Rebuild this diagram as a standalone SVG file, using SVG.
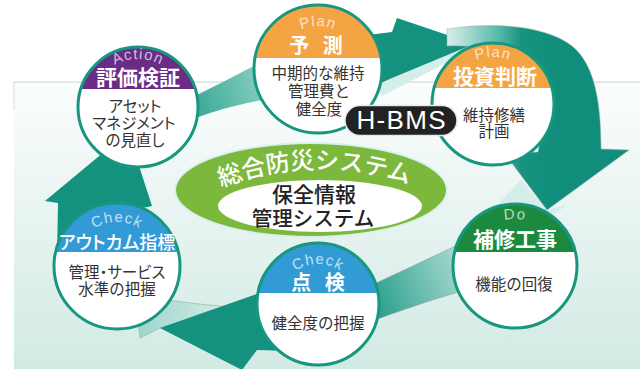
<svg xmlns="http://www.w3.org/2000/svg" width="640" height="369" viewBox="0 0 640 369">
<defs>
<style>
.node-fill{fill:#fff}
.node-ring{fill:none;stroke:#17977f;stroke-width:3}
.lbl{font-family:"Liberation Sans",Arial,sans-serif;font-size:15px;fill:#fff;fill-opacity:.7;letter-spacing:1.2px}
.ttl{font-family:"Noto Sans CJK JP",sans-serif;font-weight:700;font-size:21px;fill:#fff;text-anchor:middle}
.body{font-family:"Noto Sans CJK JP",sans-serif;font-size:15.5px;fill:#333;text-anchor:middle}
.palt{font-feature-settings:"palt"}
.sp{word-spacing:9px}
.dark{fill:#14917f}
.lite{fill:#d6eee9}
</style>
<linearGradient id="bg" gradientUnits="userSpaceOnUse" x1="0" y1="82" x2="0" y2="369">
<stop offset="0" stop-color="#fbfdfd"/><stop offset="1" stop-color="#d2eae4"/>
</linearGradient>
<linearGradient id="gTL" gradientUnits="userSpaceOnUse" x1="190" y1="105" x2="262" y2="80">
<stop offset="0" stop-color="#36a795"/><stop offset="1" stop-color="#86cdbf"/>
</linearGradient>
<linearGradient id="gR" gradientUnits="userSpaceOnUse" x1="450" y1="0" x2="560" y2="0">
<stop offset="0" stop-color="#d2ebe6"/><stop offset=".45" stop-color="#55b8a8"/><stop offset=".65" stop-color="#16937f"/><stop offset="1" stop-color="#118e7b"/>
</linearGradient>
<linearGradient id="gBR" gradientUnits="userSpaceOnUse" x1="372" y1="300" x2="460" y2="268">
<stop offset="0" stop-color="#2a9f8c"/><stop offset="1" stop-color="#a2d8cd"/>
</linearGradient>
<linearGradient id="gBL" gradientUnits="userSpaceOnUse" x1="140" y1="0" x2="235" y2="0">
<stop offset="0" stop-color="#9fd6cb"/><stop offset="1" stop-color="#d8efea"/>
</linearGradient>
<path id="aAct" d="M90,107 A48 48 0 0 1 186,107"/>
<path id="aYo" d="M275,69 A43 43 0 0 1 361,69"/>
<path id="aTo" d="M446,104 A47 47 0 0 1 540,104"/>
<path id="aOut" d="M73,266 A44 44 0 0 1 161,266"/>
<path id="aTen" d="M278,304 A40 40 0 0 1 358,304"/>
<path id="aDo" d="M468,266 A47 47 0 0 1 562,266"/>
<path id="aSys" d="M205,194 Q310,146 425,190"/>
</defs>

<rect x="0" y="0" width="640" height="369" fill="#fff"/>
<rect x="14" y="82" width="626" height="287" fill="url(#bg)"/>
<path d="M14,82 H640" stroke="#cfd3d3" stroke-width="1" fill="none"/>
<path d="M14,82 V110" stroke="#d8dcdc" stroke-width="1" fill="none"/>

<g id="connectors">
<path class="lite" d="M372,80 L470,45 L448,62 L382,96 Z"/>
<path d="M185,100 C205,92 235,75 262,62 L262,100 C240,104 215,110 185,122 Z" fill="url(#gTL)"/>
<polygon class="dark" points="360,36 392,32 397,18 474,44 392,78 365,90"/>
<path d="M447,29 C500,21 548,27 572,46 C594,64 601,100 601,149 L629,150 L547,210 L505,154 L538,152 C545,120 540,85 520,65 C500,48 470,45 447,46 Z" fill="url(#gR)" stroke="#9aa8a6" stroke-width=".5"/>
<path class="lite" d="M453,250 L521,180 L547,210 L566,205 L540,228 L492,242 Z"/>
<path d="M372,285 C400,272 430,258 462,243 L462,291 C430,300 400,311 372,321 Z" fill="url(#gBR)" stroke="#8c9a98" stroke-width=".6"/>
<path d="M135,296 C170,300 200,305 232,307 L160,328 L140,338 Z" fill="url(#gBL)" stroke="#9aa8a6" stroke-width=".6"/>
<polygon class="dark" points="160,328 265,291 263,309 320,298 320,352 257,350 242,370"/>
<polygon class="dark" points="45,201 128,132 152,206 125,212 105,262 57,258 58,203"/>
</g>

<g id="center">
<ellipse cx="311" cy="190" rx="137" ry="48" fill="#d9f1ee"/>
<ellipse cx="311" cy="190" rx="135" ry="46" fill="#7cb83c"/>
<ellipse cx="320" cy="206" rx="102" ry="26" fill="#fff"/>
<text font-family="'Noto Sans CJK JP',sans-serif" font-weight="500" font-size="24" fill="#fff"><textPath href="#aSys" startOffset="50%" text-anchor="middle">総合防災システム</textPath></text>
<text x="314" y="202" font-family="'Noto Sans CJK JP',sans-serif" font-weight="500" font-size="21" fill="#222" text-anchor="middle">保全情報</text>
<text x="313" y="226" font-family="'Noto Sans CJK JP',sans-serif" font-weight="500" font-size="20.5" fill="#222" text-anchor="middle">管理システム</text>
</g>

<g id="node-action">
<circle class="node-fill" cx="138" cy="107" r="60"/>
<path d="M80.8,89 A60 60 0 0 1 195.2,89 Z" fill="#6b2c85"/>
<circle class="node-ring" cx="138" cy="107" r="60"/>
<text class="lbl"><textPath href="#aAct" startOffset="50%" text-anchor="middle">Action</textPath></text>
<text class="ttl" x="138" y="85">評価検証</text>
<text class="body palt" x="135" y="112">アセット</text>
<text class="body palt" x="134" y="129">マネジメント</text>
<text class="body palt" x="135" y="146">の見直し</text>
</g>

<g id="node-yosoku">
<circle class="node-fill" cx="318" cy="69" r="64"/>
<path d="M254.95,58 A64 64 0 0 1 381.05,58 Z" fill="#f4a443"/>
<circle class="node-ring" cx="318" cy="69" r="64"/>
<text class="lbl"><textPath href="#aYo" startOffset="50%" text-anchor="middle">Plan</textPath></text>
<text class="ttl sp" x="316" y="53" style="font-size:20px">予 測</text>
<text class="body" x="318" y="79">中期的な維持</text>
<text class="body" x="319" y="97">管理費と</text>
<text class="body" x="319" y="115">健全度</text>
</g>

<g id="node-toshi">
<circle class="node-fill" cx="493" cy="104" r="61"/>
<path d="M434.13,88 A61 61 0 0 1 551.87,88 Z" fill="#f4a443"/>
<circle class="node-ring" cx="493" cy="104" r="61"/>
<text class="lbl"><textPath href="#aTo" startOffset="50%" text-anchor="middle">Plan</textPath></text>
<text class="ttl" x="495" y="84">投資判断</text>
<text class="body" x="494" y="121">維持修繕</text>
<text class="body" x="494" y="137">計画</text>
</g>

<g id="node-outcome">
<circle class="node-fill" cx="117" cy="266" r="63"/>
<path d="M55.58,252 A63 63 0 0 1 178.42,252 Z" fill="#329bd6"/>
<circle class="node-ring" cx="117" cy="266" r="63"/>
<text class="lbl"><textPath href="#aOut" startOffset="50%" text-anchor="middle">Check</textPath></text>
<text class="ttl palt" x="117" y="249" style="font-size:18px;font-weight:500">アウトカム指標</text>
<text class="body palt" x="117" y="278">管理・サービス</text>
<text class="body" x="117" y="295">水準の把握</text>
</g>

<g id="node-tenken">
<circle class="node-fill" cx="318" cy="304" r="61"/>
<path d="M258,293 A61 61 0 0 1 378,293 Z" fill="#329bd6"/>
<circle class="node-ring" cx="318" cy="304" r="61"/>
<text class="lbl"><textPath href="#aTen" startOffset="50%" text-anchor="middle">Check</textPath></text>
<text class="ttl sp" x="318" y="290" style="font-size:20px">点 検</text>
<text class="body" x="318" y="329">健全度の把握</text>
</g>

<g id="node-hoshu">
<circle class="node-fill" cx="515" cy="266" r="62"/>
<path d="M454.6,252 A62 62 0 0 1 575.4,252 Z" fill="#1b8a3e"/>
<circle class="node-ring" cx="515" cy="266" r="62"/>
<text class="lbl"><textPath href="#aDo" startOffset="50%" text-anchor="middle">Do</textPath></text>
<text class="ttl" x="515" y="247">補修工事</text>
<text class="body" x="514" y="290">機能の回復</text>
</g>

<g id="node-hbms">
<rect x="345" y="105.5" width="112" height="30" rx="15" fill="#222" stroke="#e6e6e6" stroke-width="1.5"/>
<text x="401" y="129" font-family="'Liberation Sans',Arial,sans-serif" font-size="26" fill="#fff" text-anchor="middle" textLength="89">H-BMS</text>
</g>
</svg>
